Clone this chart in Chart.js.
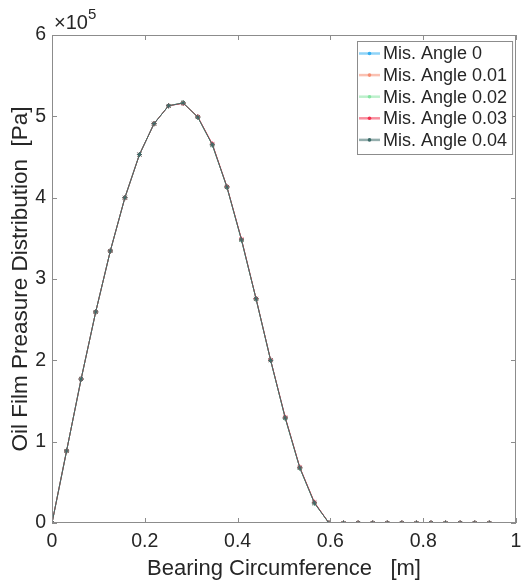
<!DOCTYPE html>
<html>
<head>
<meta charset="utf-8">
<script src="https://cdn.jsdelivr.net/npm/chart.js@4.4.0/dist/chart.umd.min.js"></script>
<style>
  html, body { margin: 0; padding: 0; background: #fff; }
  #box { width: 524px; height: 588px; }
</style>
</head>
<body>
<div id="box"><canvas id="chart" width="524" height="588"></canvas></div>
<script>
// bearing circumference positions [m]
const circ = [0, 0.0314, 0.0628, 0.0942, 0.1257, 0.1571, 0.1885, 0.2199, 0.2513, 0.2827,
  0.3142, 0.3456, 0.3770, 0.4084, 0.4398, 0.4712, 0.5027, 0.5341, 0.5655, 0.5969,
  0.6283, 0.6597, 0.6912, 0.7226, 0.7540, 0.7854, 0.8168, 0.8482, 0.8796, 0.9111, 0.9425]

// oil film pressure [Pa], one list per misalignment angle
const ang0 = [0, 88600, 177000, 259500, 334500, 400000, 453000, 491000, 513000, 516500,
  499000, 465000, 413000, 348000, 275500, 200000, 129000, 67700, 24600, 0,
  0, 0, 0, 0, 0, 0, 0, 0, 0, 0, 0]
const ang001 = [0, 88600, 177000, 259500, 334500, 400000, 453000, 491000, 513000, 516500,
  499000, 465000, 413000, 348000, 275500, 200000, 129000, 67700, 24600, 0,
  0, 0, 0, 0, 0, 0, 0, 0, 0, 0, 0]
const ang002 = [0, 88600, 177000, 259500, 334500, 400000, 453000, 491000, 513000, 516500,
  499000, 465000, 413000, 348000, 275500, 200000, 129000, 67700, 24600, 0,
  0, 0, 0, 0, 0, 0, 0, 0, 0, 0, 0]
const ang003 = [0, 88600, 177000, 259500, 334500, 400000, 453000, 491000, 513000, 516000,
  499500, 466000, 413500, 349000, 276000, 200500, 130000, 68500, 25500, 0,
  0, 0, 0, 0, 0, 0, 0, 0, 0, 0, 0]
const ang004 = [0, 88600, 177000, 259500, 334500, 400000, 453000, 491000, 513000, 516500,
  499000, 465000, 413000, 348000, 275500, 200000, 129000, 67700, 24600, 0,
  0, 0, 0, 0, 0, 0, 0, 0, 0, 0, 0]

const names = ["Mis. Angle 0", "Mis. Angle 0.01", "Mis. Angle 0.02", "Mis. Angle 0.03", "Mis. Angle 0.04"]
const colors = ["#35aef0", "#f58e72", "#86e4a2", "#f2314f", "#3d6c69"]
const series = [ang0, ang001, ang002, ang003, ang004]

const xTicks = [0, 0.2, 0.4, 0.6, 0.8, 1]
const yTicks = [0, 1, 2, 3, 4, 5, 6]

const FONT = "'Liberation Sans', Arial, Helvetica, sans-serif"
const axisCol = "#8c8c8c"
const textCol = "#262626"

const datasets = series.map((vals, i) => ({
  label: names[i],
  data: vals.map((v, k) => ({ x: circ[k], y: v })),
  order: series.length - i,
  borderColor: colors[i],
  backgroundColor: colors[i],
  borderWidth: 1,
  pointStyle: "star",
  pointRadius: 2.5,
  pointBorderWidth: 1,
  pointBorderColor: colors[i],
  tension: 0
}))

// MATLAB style frame, inward ticks, exponent, legend
const matlabLook = {
  id: "matlabLook",
  afterDraw(c) {
    const ctx = c.ctx
    const a = c.chartArea
    const xs = c.scales.x, ys = c.scales.y
    ctx.save()
    ctx.strokeStyle = axisCol
    ctx.lineWidth = 1
    ctx.strokeRect(a.left + 0.5, a.top + 0.5, a.right - a.left - 1, a.bottom - a.top - 1)
    ctx.beginPath()
    xTicks.forEach(t => {
      const px = Math.round(xs.getPixelForValue(t)) + 0.5
      ctx.moveTo(px, a.bottom); ctx.lineTo(px, a.bottom - 5)
      ctx.moveTo(px, a.top); ctx.lineTo(px, a.top + 5)
    })
    yTicks.forEach(t => {
      const py = Math.round(ys.getPixelForValue(t * 1e5)) + 0.5
      ctx.moveTo(a.left, py); ctx.lineTo(a.left + 5, py)
      ctx.moveTo(a.right, py); ctx.lineTo(a.right - 5, py)
    })
    ctx.stroke()

    // x10^5
    ctx.fillStyle = textCol
    ctx.textBaseline = "alphabetic"
    ctx.textAlign = "left"
    ctx.font = "20px " + FONT
    ctx.fillText("\u00d710", 54, 29)
    const w = ctx.measureText("\u00d710").width
    ctx.font = "15px " + FONT
    ctx.fillText("5", 54 + w, 19)

    // legend
    ctx.font = "18px " + FONT
    let tw = 0
    names.forEach(n => { tw = Math.max(tw, ctx.measureText(n).width) })
    const rowH = 21.6
    const lx = 357, ly = 41
    const bw = 26 + tw + 5
    const bh = rowH * names.length + 5
    ctx.fillStyle = "#fff"
    ctx.fillRect(lx, ly, bw, bh)
    ctx.strokeStyle = axisCol
    ctx.strokeRect(lx + 0.5, ly + 0.5, bw, bh)
    names.forEach((n, i) => {
      const cy = ly + 12.5 + i * rowH
      ctx.strokeStyle = colors[i]
      ctx.globalAlpha = 0.55
      ctx.lineWidth = 2.5
      ctx.beginPath(); ctx.moveTo(lx + 2, cy); ctx.lineTo(lx + 23, cy); ctx.stroke()
      ctx.globalAlpha = 1
      ctx.fillStyle = colors[i]
      ctx.beginPath(); ctx.arc(lx + 12.5, cy, 1.8, 0, Math.PI * 2); ctx.fill()
      ctx.fillStyle = textCol
      ctx.textBaseline = "middle"
      ctx.fillText(n, lx + 26, cy + 1)
    })
    ctx.restore()
  }
}

new Chart(document.querySelector("#chart"), {
  type: "line",
  data: { datasets: datasets },
  options: {
    responsive: false,
    animation: false,
    layout: { padding: { left: 0, top: 35, right: 8, bottom: 0 } },
    plugins: { legend: { display: false }, tooltip: { enabled: false } },
    scales: {
      x: {
        type: "linear",
        min: 0, max: 1,
        afterFit: s => { s.height = 65; s.paddingRight = 0; s.paddingLeft = 0 },
        afterBuildTicks: s => { s.ticks = xTicks.map(v => ({ value: v })) },
        grid: { display: false, drawTicks: false },
        border: { display: false },
        ticks: {
          color: textCol, font: { family: FONT, size: 19.5 }, padding: 7,
          maxRotation: 0, autoSkip: false,
          callback: v => String(v)
        },
        title: {
          display: true, text: "Bearing Circumference   [m]", color: textCol,
          font: { family: FONT, size: 22 }, padding: { top: 0, bottom: 6 }
        }
      },
      y: {
        min: 0, max: 600000,
        afterFit: s => { s.width = 52; s.paddingTop = 0; s.paddingBottom = 0 },
        afterBuildTicks: s => { s.ticks = yTicks.map(v => ({ value: v * 1e5 })) },
        grid: { display: false, drawTicks: false },
        border: { display: false },
        ticks: {
          color: textCol, font: { family: FONT, size: 19.5 }, padding: 6,
          callback: v => String(v / 1e5)
        },
        title: {
          display: true, text: "Oil Film Preasure Distribution  [Pa]", color: textCol,
          font: { family: FONT, size: 22.5 }, padding: { top: 7, bottom: 0 }
        }
      }
    }
  },
  plugins: [matlabLook]
})
</script>
</body>
</html>
